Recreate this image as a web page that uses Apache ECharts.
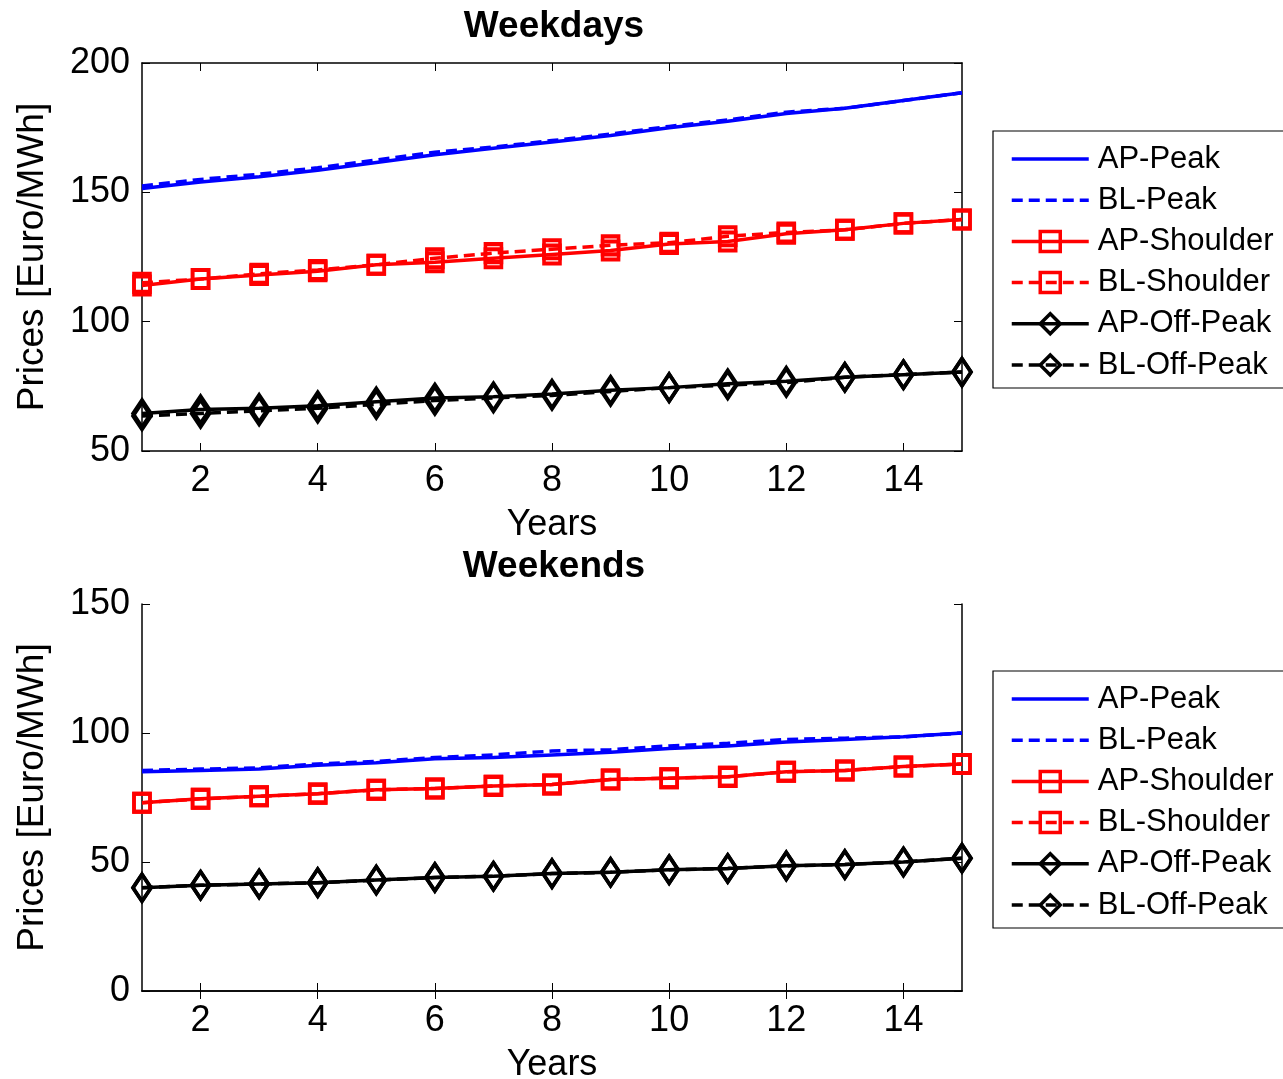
<!DOCTYPE html>
<html>
<head>
<meta charset="utf-8">
<script src="https://cdn.jsdelivr.net/npm/echarts@6/dist/echarts.min.js"></script>
<style>
html,body{margin:0;padding:0;background:#fff;}
#c{width:1283px;height:1079px;}
</style>
</head>
<body>
<div id="c"></div>
<script>
var years = [1,2,3,4,5,6,7,8,9,10,11,12,13,14,15];
var xTicks = [2,4,6,8,10,12,14];
var seriesNames = ['AP-Peak','BL-Peak','AP-Shoulder','BL-Shoulder','AP-Off-Peak','BL-Off-Peak'];

// Weekdays
var wdApPeak     = [151.5,154,156,158.5,161.5,164.5,167,169.5,172,175,177.5,180.5,182.5,185.5,188.5];
var wdBlPeak     = [152.5,155,157,159.5,162.5,165.5,167.5,170,172.5,175.5,178,181,182.5,185.5,188.5];
var wdApShoulder = [114,116.5,118,119.5,122,123,124.5,126,127.5,130,131,134,135.5,138,139.5];
var wdBlShoulder = [115,116.5,118.5,120,122,124.5,126.5,128,129.5,130.5,133,134.5,135.5,138,139.5];
var wdApOff      = [64.5,66,66.5,67.5,69,70.5,71,72,73.5,74.5,76,77,78.5,79.5,80.5];
var wdBlOff      = [63.5,64.5,65.5,66.5,68,69.5,70.5,71.5,73,74.5,75.5,76.5,78.5,79.5,80.5];

// Weekends
var weApPeak     = [85,85.5,86,87.5,88.5,90,90.5,91.5,92.5,94,95,96.5,97.5,98.5,100];
var weBlPeak     = [85.5,86,86.5,88,89,90.5,91.5,93,93.5,95,96,97.5,98,98.5,100];
var weApShoulder = [73,74.5,75.5,76.5,78,78.5,79.5,80,82,82.5,83,85,85.5,87,88];
var weBlShoulder = [73,74.5,75.5,76.5,78,78.5,79.5,80,82,82.5,83,85,85.5,87,88];
var weApOff      = [40,41,41.5,42,43,44,44.5,45.5,46,47,47.5,48.5,49,50,51.5];
var weBlOff      = [40,41,41.5,42,43,44,44.5,45.5,46,47,47.5,48.5,49,50,51.5];

var FONT = '"Liberation Sans", Arial, Helvetica, sans-serif';
var chart = echarts.init(document.getElementById('c'), null, {renderer:'canvas'});

function pairs(arr){ return years.map(function(y,i){ return [y, arr[i]]; }); }

var DASH = [11,6];
var styles = [
  {color:'#0000ff', type:'solid', symbol:'none'},
  {color:'#0000ff', type:DASH, symbol:'none'},
  {color:'#ff0000', type:'solid', symbol:'rect', size:[16,18]},
  {color:'#ff0000', type:DASH, symbol:'rect', size:[16,18]},
  {color:'#000000', type:'solid', symbol:'diamond', size:[18,27]},
  {color:'#000000', type:DASH, symbol:'diamond', size:[18,27]}
];

function makeSeries(dataArrs, idx){
  return dataArrs.map(function(d,i){
    var s = styles[i];
    return {
      name: seriesNames[i], type:'line', xAxisIndex: idx*2, yAxisIndex: idx*2,
      data: pairs(d), symbol: s.symbol, symbolSize: s.size || 0, showSymbol: s.symbol !== 'none',
      lineStyle: {color: s.color, width: 3.5, type: s.type},
      itemStyle: {color: 'rgba(255,255,255,0)', borderColor: s.color, borderWidth: 3.8},
      emphasis: {disabled: true}, animation: false, z: 2 + i
    };
  });
}

var grids = [
  {left:142, width:820, top:63, height:388, outerBoundsMode:'none', containLabel:false},
  {left:142, width:820, top:604, height:387, outerBoundsMode:'none', containLabel:false}
];

function xAxes(gi){
  return [
    {gridIndex:gi, type:'value', min:1, max:15, position:'bottom',
     name:'Years', nameLocation:'middle', nameGap:56,
     nameTextStyle:{fontFamily:FONT, fontSize:36, color:'#000'},
     axisLine:{lineStyle:{color:'#000', width:1.5}},
     axisTick:{inside:true, length:8, customValues:xTicks, lineStyle:{color:'#000'}},
     axisLabel:{customValues:xTicks, fontFamily:FONT, fontSize:36, color:'#000', margin:12},
     splitLine:{show:false}},
    {gridIndex:gi, type:'value', min:1, max:15, position:'top',
     axisLine:{lineStyle:{color:'#000', width:1.5}},
     axisTick:{inside:true, length:8, customValues:xTicks, lineStyle:{color:'#000'}},
     axisLabel:{show:false}, splitLine:{show:false}}
  ];
}
function yAxes(gi, mn, mx){
  return [
    {gridIndex:gi, type:'value', min:mn, max:mx, interval:50, position:'left',
     name:'Prices [Euro/MWh]', nameLocation:'middle', nameGap:91,
     nameTextStyle:{fontFamily:FONT, fontSize:37, color:'#000'},
     axisLine:{show:true, lineStyle:{color:'#000', width:1.5}},
     axisTick:{show:true, inside:true, length:8, lineStyle:{color:'#000'}},
     axisLabel:{fontFamily:FONT, fontSize:36, color:'#000', margin:12},
     splitLine:{show:false}},
    {gridIndex:gi, type:'value', min:mn, max:mx, interval:50, position:'right',
     axisLine:{show:true, lineStyle:{color:'#000', width:1.5}},
     axisTick:{show:true, inside:true, length:8, lineStyle:{color:'#000'}},
     axisLabel:{show:false}, splitLine:{show:false}}
  ];
}

function legendData(){
  return seriesNames.map(function(n, i){
    var item = {name: n};
    if (styles[i].symbol === 'none') item.itemStyle = {opacity: 0};
    return item;
  });
}

function legend(top){
  return {
    left: 993, top: top, orient:'vertical',
    data: legendData(),
    itemWidth: 77, itemHeight: 25, itemGap: 10.2,
    padding: [12.5, 40, 7.5, 17],
    borderColor:'#000', borderWidth:1.2, backgroundColor:'#fff',
    selectedMode:false,
    lineStyle:{width:3.5},
    itemStyle:{borderWidth:3.5},
    textStyle:{fontFamily:FONT, fontSize:31, color:'#000', lineHeight:31, padding:[0,0,0,4]}
  };
}

var option = {
  backgroundColor:'#fff',
  animation:false,
  title: [
    {text:'Weekdays', left:549, top:3, textAlign:'center',
     textStyle:{fontFamily:FONT, fontSize:37, fontWeight:'bold', color:'#000'}},
    {text:'Weekends', left:549, top:543, textAlign:'center',
     textStyle:{fontFamily:FONT, fontSize:37, fontWeight:'bold', color:'#000'}}
  ],
  grid: grids,
  xAxis: xAxes(0).concat(xAxes(1)),
  yAxis: yAxes(0,50,200).concat(yAxes(1,0,150)),
  legend: [legend(131), legend(671)],
  series: makeSeries([wdApPeak,wdBlPeak,wdApShoulder,wdBlShoulder,wdApOff,wdBlOff],0)
    .concat(makeSeries([weApPeak,weBlPeak,weApShoulder,weBlShoulder,weApOff,weBlOff],1))
};
chart.setOption(option);
</script>
</body>
</html>
